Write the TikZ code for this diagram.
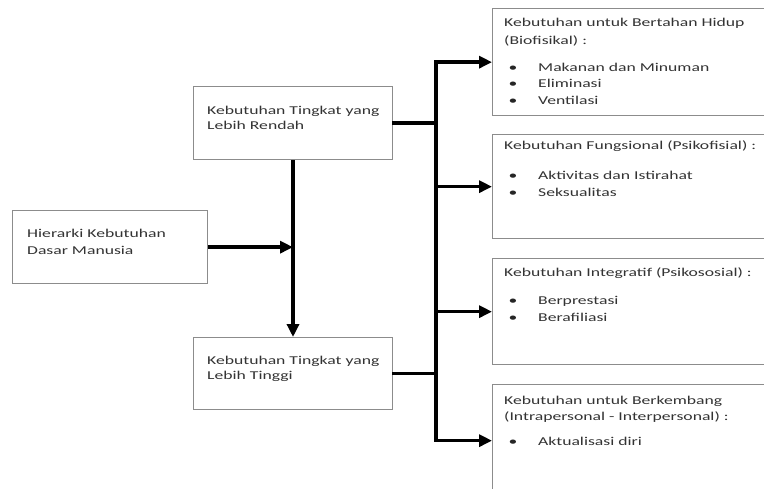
\documentclass[tikz,border=0pt]{standalone}
\usepackage{fontspec}
\setmainfont[FakeStretch=1.47]{Carlito}
\usetikzlibrary{arrows.meta}
\begin{document}
\begin{tikzpicture}[x=1pt,y=-1pt,
  box/.style={draw=black!45,line width=1.3pt,inner sep=0pt,fill=white,anchor=north west},
  txt/.style={anchor=base west,inner sep=0pt,font=\fontsize{12}{15}\selectfont,text=black!80},
  bul/.style={anchor=base,inner sep=0pt,font=\fontsize{12}{15}\selectfont,text=black!85},
  conn/.style={line width=3.6pt,line cap=rect},
  arr/.style={line width=3.6pt,-{Triangle[length=13pt,width=12pt]}}]
\useasboundingbox (0,0) rectangle (764,488);
\clip (0,0) rectangle (764,488);
\fill[white] (0,0) rectangle (764,488);

% boxes
\node[box,minimum width=195pt,minimum height=73pt] (L) at (12,210) {};
\node[box,minimum width=199pt,minimum height=73pt] (U) at (193,86) {};
\node[box,minimum width=199pt,minimum height=72pt] (Lo) at (193,337) {};
\node[box,minimum width=280pt,minimum height=107pt] (R1) at (492,8) {};
\node[box,minimum width=280pt,minimum height=104pt] (R2) at (492,134) {};
\node[box,minimum width=280pt,minimum height=106pt] (R3) at (492,258) {};
\node[box,minimum width=280pt,minimum height=112pt] (R4) at (492,384) {};

% guide coordinates
\coordinate (tx) at (436,0);
\coordinate (vx) at (293,0);

% connectors
\draw[conn] (U.east) -- (U.east -| tx);
\draw[conn] (Lo.east) -- (Lo.east -| tx);
\draw[conn] (R1.west -| tx) -- (R4.west -| tx);
\draw[arr] (R1.west -| tx) -- (R1.west);
\draw[arr] (R2.west -| tx) -- (R2.west);
\draw[arr] (R3.west -| tx) -- (R3.west);
\draw[arr] (R4.west -| tx) -- (R4.west);
\draw[arr] (U.south -| vx) -- (Lo.north -| vx);
\draw[arr] (L.east) -- (L.east -| vx);

% texts
\node[txt] (L1) at (27,237) {Hierarki Kebutuhan};
\node[txt] (L2) at (27,254) {Dasar Manusia};
\node[txt] (U1) at (207,114) {Kebutuhan Tingkat yang};
\node[txt] (U2) at (207,129) {Lebih Rendah};
\node[txt] (Lo1) at (207,364) {Kebutuhan Tingkat yang};
\node[txt] (Lo2) at (207,379) {Lebih Tinggi};

\node[txt] (R1t1) at (504,26) {Kebutuhan untuk Bertahan Hidup};
\node[txt] (R1t2) at (504,44) {(Biofisikal) :};
\node[bul] (R1b1) at (513,71) {\textbullet};
\node[txt] (R1i1) at (538,71) {Makanan dan Minuman};
\node[bul] (R1b2) at (513,87) {\textbullet};
\node[txt] (R1i2) at (538,87) {Eliminasi};
\node[bul] (R1b3) at (513,104) {\textbullet};
\node[txt] (R1i3) at (538,104) {Ventilasi};

\node[txt] (R2t1) at (504,149) {Kebutuhan Fungsional (Psikofisial) :};
\node[bul] (R2b1) at (513,179) {\textbullet};
\node[txt] (R2i1) at (538,179) {Aktivitas dan Istirahat};
\node[bul] (R2b2) at (513,196) {\textbullet};
\node[txt] (R2i2) at (538,196) {Seksualitas};

\node[txt] (R3t1) at (504,276) {Kebutuhan Integratif (Psikososial) :};
\node[bul] (R3b1) at (513,304) {\textbullet};
\node[txt] (R3i1) at (538,304) {Berprestasi};
\node[bul] (R3b2) at (513,321) {\textbullet};
\node[txt] (R3i2) at (538,321) {Berafiliasi};

\node[txt] (R4t1) at (504,404) {Kebutuhan untuk Berkembang};
\node[txt] (R4t2) at (504,420) {(Intrapersonal - Interpersonal) :};
\node[bul] (R4b1) at (513,445) {\textbullet};
\node[txt] (R4i1) at (538,445) {Aktualisasi diri};
\end{tikzpicture}
\end{document}
